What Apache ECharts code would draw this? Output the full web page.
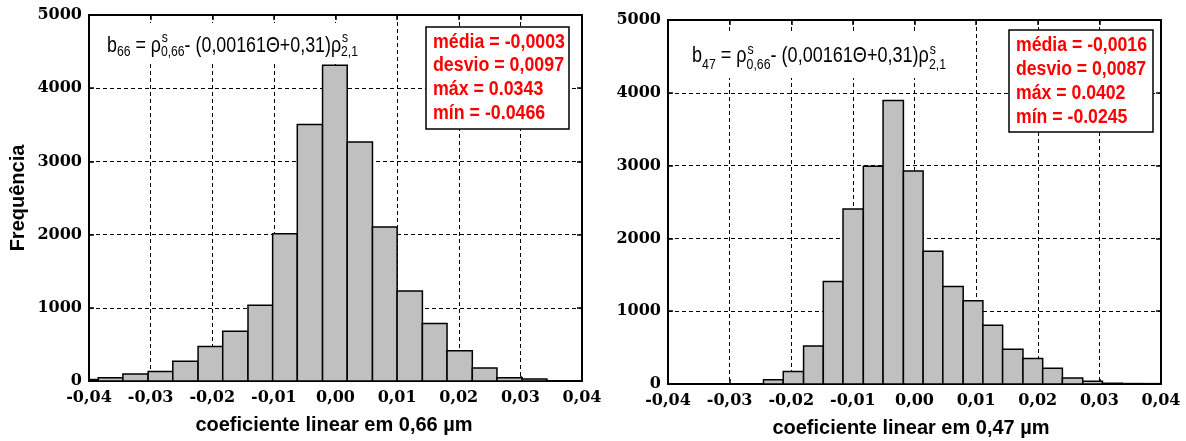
<!DOCTYPE html>
<html>
<head>
<meta charset="utf-8">
<script src="https://cdn.jsdelivr.net/npm/echarts@6/dist/echarts.min.js"></script>
<style>
html,body{margin:0;padding:0;background:#fff;}
#chart{width:1186px;height:441px;}
</style>
</head>
<body>
<div id="chart"></div>
<script>
// ---------- DATA ----------
const xTickLabels = ['-0,04','-0,03','-0,02','-0,01','0,00','0,01','0,02','0,03','0,04'];
const yTickLabels = ['0','1000','2000','3000','4000','5000'];

// left histogram: coefficient at 0.66 um (bin edges, counts)
const binEdges66 = [-0.0466,-0.0426,-0.0385,-0.0345,-0.0304,-0.0264,-0.0223,-0.0183,-0.0142,-0.0102,
                    -0.0062,-0.0021,0.0019,0.0060,0.0100,0.0141,0.0181,0.0222,0.0262,0.0303,0.0343];
const counts66 = [8,20,45,95,130,270,470,680,1035,2010,3505,4315,3265,2105,1228,787,413,178,45,27];

// right histogram: coefficient at 0.47 um
const binEdges47 = [-0.0245,-0.0213,-0.0180,-0.0148,-0.0116,-0.0083,-0.0051,-0.0018,0.0014,0.0046,
                    0.0079,0.0111,0.0143,0.0176,0.0208,0.0240,0.0273,0.0305,0.0337,0.0370,0.0402];
const counts47 = [60,170,523,1408,2403,2990,3895,2925,1825,1340,1142,807,477,349,215,83,38,10,6,5];

const stats66 = ['média = -0,0003','desvio = 0,0097','máx = 0.0343','mín = -0.0466'];
const stats47 = ['média = -0,0016','desvio = 0,0087','máx = 0.0402','mín = -0.0245'];
const xTitle66 = 'coeficiente linear em 0,66 µm';
const xTitle47 = 'coeficiente linear em 0,47 µm';
const yTitle = 'Frequência';
const formula66 = [{main:'b'},{sub:'66'},{main:' = ρ'},{sup:'s',sub:'0,66'},{main:'- (0,00161Θ+0,31)ρ'},{sup:'s',sub:'2,1'}];
const formula47 = [{main:'b'},{sub:'47'},{main:' = ρ'},{sup:'s',sub:'0,66'},{main:'- (0,00161Θ+0,31)ρ'},{sup:'s',sub:'2,1'}];

// ---------- BUILD ----------
const chart = echarts.init(document.getElementById('chart'), null, {renderer:'canvas'});
const SANS = 'Liberation Sans, Arial, Helvetica, sans-serif';
const SERIF = 'DejaVu Serif, serif';
const mctx = document.createElement('canvas').getContext('2d');
function meas(t, f, w){ mctx.font = (w||'normal') + ' ' + f + 'px ' + SANS; return mctx.measureText(t).width; }

function buildFormula(segs, x0, base, subDy, supDy, targetW){
  const MF = 22, SF = 15;
  const children = []; let x = 0;
  const txt = (t, f, xx, bl) => children.push({type:'text', x: xx, y: bl - 0.35*f, z:30,
      style:{text:t, fontSize:f, fontFamily:SANS, fill:'#000', align:'left', verticalAlign:'middle'}});
  segs.forEach(s => {
    if (s.main !== undefined){ txt(s.main, MF, x, base); x += meas(s.main, MF); }
    else if (s.sup === undefined){ txt(s.sub, SF, x, base+subDy); x += meas(s.sub, SF); }
    else { txt(s.sup, SF, x+1, base+supDy); txt(s.sub, SF, x, base+subDy);
           x += Math.max(meas(s.sup, SF), meas(s.sub, SF)); }
  });
  return {type:'group', x:x0, y:0, scaleX: targetW/x, children, z:30};
}

function buildStats(lines, box, tx, ty, lh, targetW){
  const f = 20;
  const sx = targetW / meas(lines[0], f, 'bold');
  return [
    {type:'rect', shape:box, style:{fill:'#fff', stroke:'#000', lineWidth:1.5}, z:20},
    {type:'group', x:tx, y:0, scaleX:sx, z:31, children:[
      {type:'text', x:0, y:ty, z:31, style:{text:lines.join('\n'), fontSize:f, fontWeight:'bold', fontFamily:SANS,
        fill:'#ff0000', lineHeight:lh, align:'left', verticalAlign:'top'}}]}
  ];
}

const grids = [
  {left:89, top:15, width:493, height:366},
  {left:668, top:20, width:493, height:364}
];

function xAxes(gi){
  const common = {gridIndex:gi, type:'value', min:-0.04, max:0.04, interval:0.01,
    axisLine:{onZero:false, lineStyle:{color:'#000', width:2}},
    axisTick:{inside:true, length:5, lineStyle:{color:'#000', width:1.5}}};
  return [
    Object.assign({}, common, {position:'bottom',
      axisLabel:{formatter:v => xTickLabels[Math.round((v+0.04)/0.01)], color:'#000', fontFamily:SERIF,
        fontWeight:'bold', fontSize:16, margin:9, showMinLabel:true, showMaxLabel:true, hideOverlap:false},
      splitLine:{show:true, lineStyle:{color:'#000', width:1, type:[4,3]}}}),
    Object.assign({}, common, {position:'top', axisLabel:{show:false}, splitLine:{show:false}})
  ];
}
function yAxes(gi){
  const common = {gridIndex:gi, type:'value', min:0, max:5000, interval:1000,
    axisLine:{onZero:false, show:true, lineStyle:{color:'#000', width:2}},
    axisTick:{show:true, inside:true, length:5, lineStyle:{color:'#000', width:1.5}}};
  return [
    Object.assign({}, common, {position:'left',
      axisLabel:{formatter:v => yTickLabels[Math.round(v/1000)], color:'#000', fontFamily:SERIF,
        fontWeight:'bold', fontSize:16, margin:7, showMinLabel:true, showMaxLabel:true},
      splitLine:{show:true, lineStyle:{color:'#000', width:1, type:[4,3]}}}),
    Object.assign({}, common, {position:'right', axisLabel:{show:false}, splitLine:{show:false}})
  ];
}

function histSeries(edges, counts, axisIdx){
  return {
    type:'custom', xAxisIndex:axisIdx, yAxisIndex:axisIdx,
    data: counts.map((c,i) => [edges[i], edges[i+1], c]),
    encode:{x:[0,1], y:2},
    renderItem:function(params, api){
      const p0 = api.coord([api.value(0), api.value(2)]);
      const p1 = api.coord([api.value(1), 0]);
      const cs = params.coordSys;
      const shape = echarts.graphic.clipRectByRect(
        {x:p0[0], y:p0[1], width:p1[0]-p0[0], height:p1[1]-p0[1]},
        {x:cs.x, y:cs.y, width:cs.width, height:cs.height});
      if (!shape) return null;
      return {type:'rect', shape:shape, style:{fill:'#c0c0c0', stroke:'#000', lineWidth:1.5}};
    },
    z:3
  };
}

const graphic = [
  {type:'rect', shape:{x:100, y:23, width:263, height:39}, style:{fill:'#fff'}, z:15},
  {type:'rect', shape:{x:682, y:33, width:270, height:45}, style:{fill:'#fff'}, z:15},
  buildFormula(formula66, 107, 53.5, 4, -10.5, 251),
  buildFormula(formula47, 692, 63.3, 7, -8, 254),
  ...buildStats(stats66, {x:426, y:27, width:143, height:102}, 433, 30.2, 23.7, 132),
  ...buildStats(stats47, {x:1009, y:30, width:144, height:102}, 1016, 33, 24, 131),
  {type:'text', x:334, y:425, style:{text:xTitle66, fontSize:20, fontWeight:'bold', fontFamily:SANS,
     fill:'#000', align:'center', verticalAlign:'middle'}, z:20},
  {type:'text', x:911, y:428, style:{text:xTitle47, fontSize:20, fontWeight:'bold', fontFamily:SANS,
     fill:'#000', align:'center', verticalAlign:'middle'}, z:20},
  {type:'text', x:18.5, y:198, rotation:Math.PI/2, style:{text:yTitle, fontSize:20, fontWeight:'bold',
     fontFamily:SANS, fill:'#000', align:'center', verticalAlign:'middle'}, z:20}
];

chart.setOption({
  animation:false,
  backgroundColor:'#fff',
  grid:grids,
  xAxis:[...xAxes(0), ...xAxes(1)],
  yAxis:[...yAxes(0), ...yAxes(1)],
  series:[histSeries(binEdges66, counts66, 0), histSeries(binEdges47, counts47, 2)],
  graphic:graphic
});
</script>
</body>
</html>
